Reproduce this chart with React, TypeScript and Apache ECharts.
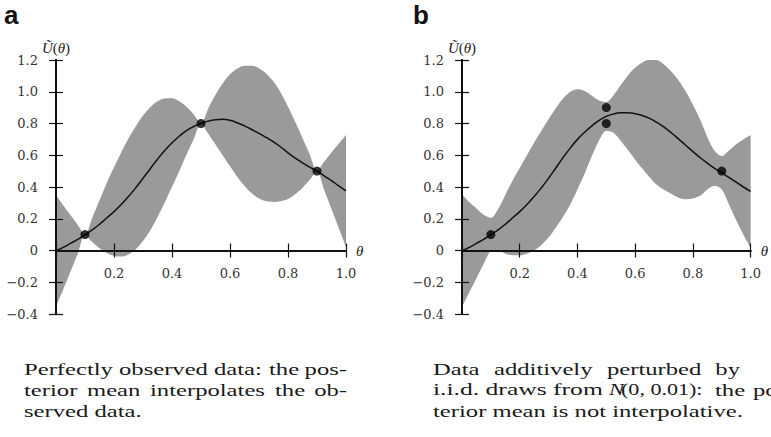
import React, { useEffect, useRef } from "react";
import * as echarts from "echarts";

// ---------- data ----------
const THETA = [0, 0.025, 0.05, 0.075, 0.1, 0.125, 0.15, 0.175, 0.2, 0.225, 0.25, 0.275, 0.3, 0.325, 0.35, 0.375, 0.4, 0.425, 0.45, 0.475, 0.5, 0.525, 0.55, 0.575, 0.6, 0.625, 0.65, 0.675, 0.7, 0.725, 0.75, 0.775, 0.8, 0.825, 0.85, 0.875, 0.9, 0.925, 0.95, 0.975, 1];

// panel a: perfectly observed data
const A_MEAN = [0, 0.02, 0.045, 0.07, 0.1, 0.13, 0.165, 0.205, 0.245, 0.29, 0.34, 0.395, 0.455, 0.515, 0.575, 0.63, 0.678, 0.72, 0.755, 0.781, 0.8, 0.815, 0.824, 0.826, 0.82, 0.805, 0.785, 0.762, 0.738, 0.712, 0.685, 0.652, 0.615, 0.582, 0.552, 0.525, 0.5, 0.47, 0.44, 0.407, 0.375];
const A_UPPER = [0.35, 0.285, 0.223, 0.16, 0.1, 0.207, 0.316, 0.425, 0.524, 0.618, 0.705, 0.782, 0.85, 0.902, 0.94, 0.958, 0.959, 0.94, 0.906, 0.857, 0.8, 0.895, 0.981, 1.054, 1.11, 1.146, 1.164, 1.164, 1.148, 1.114, 1.064, 0.993, 0.905, 0.81, 0.709, 0.605, 0.5, 0.56, 0.618, 0.673, 0.728];
const A_LOWER = [-0.35, -0.245, -0.133, -0.02, 0.1, 0.053, 0.014, -0.015, -0.034, -0.038, -0.025, 0.008, 0.06, 0.128, 0.21, 0.302, 0.401, 0.5, 0.604, 0.703, 0.8, 0.735, 0.667, 0.598, 0.53, 0.464, 0.406, 0.36, 0.328, 0.31, 0.306, 0.311, 0.325, 0.354, 0.395, 0.445, 0.5, 0.38, 0.262, 0.141, 0.022];
const A_OBS_X = [0.1, 0.5, 0.9];
const A_OBS_Y = [0.1, 0.8, 0.5];

// panel b: noisy data
const B_MEAN = [0, 0.02, 0.045, 0.07, 0.1, 0.13, 0.165, 0.205, 0.245, 0.29, 0.34, 0.395, 0.455, 0.52, 0.585, 0.645, 0.7, 0.745, 0.785, 0.82, 0.845, 0.86, 0.867, 0.868, 0.862, 0.85, 0.832, 0.807, 0.777, 0.742, 0.703, 0.663, 0.623, 0.585, 0.55, 0.518, 0.49, 0.46, 0.43, 0.4, 0.372];
const B_UPPER = [0.355, 0.305, 0.265, 0.225, 0.205, 0.26, 0.35, 0.44, 0.52, 0.6, 0.68, 0.755, 0.827, 0.896, 0.957, 1.0, 1.015, 1.005, 0.975, 0.945, 0.935, 0.978, 1.042, 1.103, 1.152, 1.185, 1.202, 1.2, 1.172, 1.127, 1.073, 1.003, 0.918, 0.825, 0.715, 0.628, 0.595, 0.63, 0.67, 0.7, 0.727];
const B_LOWER = [-0.355, -0.265, -0.175, -0.085, -0.005, 0.0, -0.02, -0.03, -0.03, -0.02, 0.0, 0.035, 0.083, 0.144, 0.213, 0.29, 0.385, 0.485, 0.595, 0.695, 0.755, 0.742, 0.692, 0.633, 0.572, 0.515, 0.462, 0.414, 0.382, 0.357, 0.333, 0.323, 0.328, 0.345, 0.385, 0.408, 0.385, 0.29, 0.19, 0.1, 0.017];
const B_OBS_X = [0.1, 0.5, 0.5, 0.9];
const B_OBS_Y = [0.1, 0.9, 0.8, 0.5];

const X_MIN = 0, X_MAX = 1, X_STEP = 0.2;
const Y_MIN = -0.4, Y_MAX = 1.2, Y_STEP = 0.2;

const PANEL_LABELS = ["a", "b"];
const X_NAME = "θ";
const Y_NAME = "{i|Ũ}{r|(}{i|θ}{r|)}";

// ---------- styling ----------
const BAND = "#9a9a9a";
const INK = "#111111";
const SERIF = "Liberation Serif";
const TICK_FONT = "DejaVu Serif";
const GRID_LEFT = [56, 462];
const GRID_TOP = 60;
const GRID_W = 290;
const GRID_H = 254;
// x axis drawn through y = 0 (offset from the grid's bottom edge)
const X_AXIS_OFFSET = -((0 - Y_MIN) / (Y_MAX - Y_MIN)) * GRID_H;

const fmtY = (v: number) => {
  if (Math.abs(v) < 1e-9) return "0";
  return v < 0 ? "\u2212" + Math.abs(v).toFixed(1) : v.toFixed(1);
};
const fmtX = (v: number) => (Math.abs(v) < 1e-9 ? "" : v.toFixed(1));

const labelStyle = { fontFamily: TICK_FONT, fontSize: 13, color: "#333" };

function buildAxes(gi: number) {
  const lineStyle = { color: INK, width: 2 };
  const tickStyle = { color: INK, width: 1.2 };
  const xMain: any = {
    type: "value", gridIndex: gi, min: X_MIN, max: X_MAX, interval: X_STEP, position: "bottom", z: 10,
    offset: X_AXIS_OFFSET,
    axisLine: { onZero: false, lineStyle },
    axisTick: { inside: false, length: 7, lineStyle: tickStyle },
    axisLabel: { margin: 16, formatter: fmtX, ...labelStyle },
    splitLine: { show: false },
    name: X_NAME, nameLocation: "end", nameGap: 10,
    nameTextStyle: { fontFamily: SERIF, fontStyle: "italic", fontSize: 15, color: "#222" },
  };
  const xInner: any = {
    type: "value", gridIndex: gi, min: X_MIN, max: X_MAX, interval: X_STEP, position: "bottom", z: 10,
    offset: X_AXIS_OFFSET,
    axisLine: { onZero: false, lineStyle },
    axisTick: { inside: true, length: 7, lineStyle: tickStyle },
    axisLabel: { show: false },
    splitLine: { show: false },
  };
  const yMain: any = {
    type: "value", gridIndex: gi, min: Y_MIN, max: Y_MAX, interval: Y_STEP, position: "left", z: 10,
    axisLine: { onZero: false, lineStyle },
    axisTick: { inside: false, length: 7, lineStyle: tickStyle },
    axisLabel: { margin: 18, formatter: fmtY, ...labelStyle },
    splitLine: { show: false },
    name: Y_NAME, nameLocation: "end", nameGap: 5,
    nameTextStyle: {
      rich: {
        i: { fontFamily: SERIF, fontStyle: "italic", fontSize: 15, color: "#222" },
        r: { fontFamily: SERIF, fontSize: 15, color: "#222" },
      },
    },
  };
  const yInner: any = {
    type: "value", gridIndex: gi, min: Y_MIN, max: Y_MAX, interval: Y_STEP, position: "left", z: 10,
    axisLine: { onZero: false, lineStyle },
    axisTick: { inside: true, length: 7, lineStyle: tickStyle },
    axisLabel: { show: false },
    splitLine: { show: false },
  };
  return { x: [xMain, xInner], y: [yMain, yInner] };
}

function buildSeries(gi: number, mean: number[], upper: number[], lower: number[], ox: number[], oy: number[]) {
  const ax = { xAxisIndex: gi * 2, yAxisIndex: gi * 2 };
  // value placed in column 0 so that the stack is applied to the y values
  const bandCommon: any = {
    type: "line", ...ax, stack: "band" + gi, stackStrategy: "all", symbol: "none", smooth: 0.3, silent: true,
    dimensions: [{ name: "v", type: "float" }, { name: "t", type: "float" }],
    encode: { x: "t", y: "v" },
    lineStyle: { opacity: 0, width: 0 }, z: 1,
  };
  return [
    { ...bandCommon, data: THETA.map((t, i) => [lower[i], t]) },
    {
      ...bandCommon, areaStyle: { color: BAND, opacity: 1 },
      data: THETA.map((t, i) => [upper[i] - lower[i], t]),
    },
    {
      type: "line", ...ax, symbol: "none", smooth: 0.5, silent: true, z: 3,
      lineStyle: { color: INK, width: 1.5 },
      data: THETA.map((t, i) => [t, mean[i]]),
    },
    {
      type: "scatter", ...ax, symbol: "circle", symbolSize: 9, silent: true, z: 4,
      itemStyle: { color: "#000" },
      data: ox.map((x, i) => [x, oy[i]]),
    },
  ];
}

const capText = (text: string, x: number, y: number, sx = 1.54, extra: any = {}) => ({
  type: "text", x, y, scaleX: sx, silent: true,
  style: { text, fontFamily: SERIF, fontSize: 16, fill: "#1a1a1a", align: "left", verticalAlign: "middle", ...extra },
});

export default function App() {
  const ref = useRef<HTMLDivElement>(null);
  useEffect(() => {
    if (!ref.current) return;
    const chart = echarts.init(ref.current, undefined, { renderer: "svg", width: 771, height: 437 });
    const axA = buildAxes(0);
    const axB = buildAxes(1);
    const capY = [369, 390, 411];
    const option: any = {
      animation: false,
      backgroundColor: "#ffffff",
      grid: [
        { left: GRID_LEFT[0], top: GRID_TOP, width: GRID_W, height: GRID_H, containLabel: false },
        { left: GRID_LEFT[1], top: GRID_TOP, width: GRID_W, height: GRID_H, containLabel: false },
      ],
      xAxis: [...axA.x, ...axB.x],
      yAxis: [...axA.y, ...axB.y],
      series: [
        ...buildSeries(0, A_MEAN, A_UPPER, A_LOWER, A_OBS_X, A_OBS_Y),
        ...buildSeries(1, B_MEAN, B_UPPER, B_LOWER, B_OBS_X, B_OBS_Y),
      ],
      graphic: [
        { type: "text", x: 4, y: 14.5, silent: true, style: { text: PANEL_LABELS[0], fontFamily: "Liberation Sans", fontWeight: "bold", fontSize: 26, fill: "#111", verticalAlign: "middle" } },
        { type: "text", x: 413, y: 14.5, silent: true, style: { text: PANEL_LABELS[1], fontFamily: "Liberation Sans", fontWeight: "bold", fontSize: 26, fill: "#111", verticalAlign: "middle" } },
        // caption a (justified)
        capText("Perfectly", 24, capY[0]),
        capText("observed", 119, capY[0]),
        capText("data:", 214, capY[0]),
        capText("the", 269, capY[0]),
        capText("pos-", 347, capY[0], 1.54, { align: "right" }),
        capText("terior", 24, capY[1]),
        capText("mean", 87, capY[1]),
        capText("interpolates", 150, capY[1]),
        capText("the", 275, capY[1]),
        capText("ob-", 347, capY[1], 1.54, { align: "right" }),
        capText("served data.", 24, capY[2]),
        // caption b
        capText("Data", 433, capY[0]),
        capText("additively", 494, capY[0]),
        capText("perturbed", 607, capY[0]),
        capText("by", 740, capY[0], 1.54, { align: "right" }),
        capText("i.i.d. draws from", 433, capY[1], 1.6),
        capText("N", 609, capY[1], 1.4, { fontStyle: "italic" }),
        capText("(0, 0.01):", 621, capY[1], 1.38),
        capText("the", 715, capY[1]),
        capText("pos-", 753, capY[1]),
        capText("terior mean is not interpolative.", 433, capY[2]),
      ],
    };
    chart.setOption(option);
    return () => chart.dispose();
  }, []);
  return (
    <div
      ref={ref}
      style={{ position: "fixed", left: 0, top: 0, width: 771, height: 437, background: "#fff" }}
    />
  );
}
